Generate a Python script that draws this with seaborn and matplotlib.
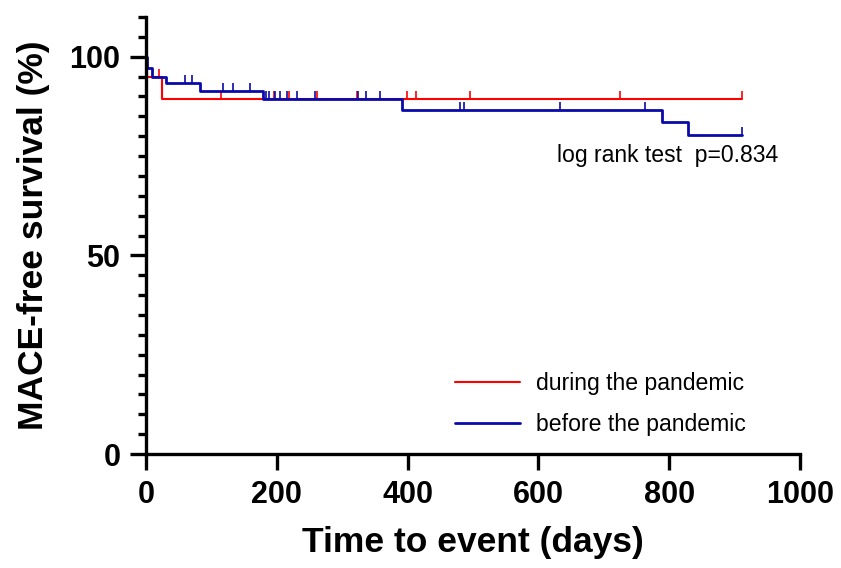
import numpy as np
import pandas as pd
import seaborn as sns
import matplotlib.pyplot as plt
from matplotlib.ticker import MultipleLocator

# Kaplan-Meier steps (day, survival %)
during_days = [0, 2, 24, 912]
during_surv = [100.0, 95.0, 89.4, 89.4]
before_days = [0, 1, 9, 31, 83, 179, 392, 789, 829, 911]
before_surv = [100.0, 97.1, 95.0, 93.4, 91.4, 89.3, 86.6, 83.6, 80.3, 80.3]

# censored observations (days)
during_cens = [20, 115, 195, 218, 262, 322, 399, 413, 495, 725, 912]
before_cens = [60, 71, 117, 133, 159, 183, 188, 197, 205, 215, 231, 258,
               324, 336, 358, 480, 486, 633, 763, 911]

groups = ['during the pandemic', 'before the pandemic']
colors = {'during the pandemic': '#ff0000', 'before the pandemic': '#0a0aaa'}
widths = {'during the pandemic': 1.5, 'before the pandemic': 2.0}


def surv_at(days, surv, t):
    idx = np.searchsorted(days, t, side='right') - 1
    return surv[idx]


def main():
    sns.set_style('ticks')
    plt.rcParams['font.family'] = ['Liberation Sans', 'DejaVu Sans']
    plt.rcParams['text.color'] = 'black'
    plt.rcParams['axes.labelcolor'] = 'black'
    plt.rcParams['xtick.labelcolor'] = 'black'
    plt.rcParams['ytick.labelcolor'] = 'black'

    steps = pd.concat([
        pd.DataFrame({'day': during_days, 'surv': during_surv, 'group': groups[0]}),
        pd.DataFrame({'day': before_days, 'surv': before_surv, 'group': groups[1]}),
    ])
    cens = pd.concat([
        pd.DataFrame({'day': during_cens,
                      'surv': [surv_at(during_days, during_surv, t) for t in during_cens],
                      'group': groups[0]}),
        pd.DataFrame({'day': before_cens,
                      'surv': [surv_at(before_days, before_surv, t) for t in before_cens],
                      'group': groups[1]}),
    ])

    fig = plt.figure(figsize=(8.41, 5.68), dpi=100)
    ax = fig.add_axes([146 / 841, 1 - 454 / 568, 654 / 841, 437 / 568])

    for g in groups:
        d = steps[steps['group'] == g]
        sns.lineplot(data=d, x='day', y='surv', ax=ax, color=colors[g],
                     drawstyle='steps-post', estimator=None, sort=False,
                     linewidth=widths[g], label=g)
        c = cens[cens['group'] == g]
        ax.plot(c['day'], c['surv'], linestyle='none', marker=2,
                markersize=6, markeredgewidth=1.2, color=colors[g])

    ax.set_xlim(0, 1000)
    ax.set_ylim(0, 110)
    ax.set_xticks(range(0, 1001, 200))
    ax.set_yticks([0, 50, 100])
    ax.yaxis.set_minor_locator(MultipleLocator(5))

    sns.despine(ax=ax)
    for s in ['left', 'bottom']:
        ax.spines[s].set_linewidth(2.4)
        ax.spines[s].set_color('black')
    ax.tick_params(axis='both', which='major', length=11.5, width=2.4,
                   color='black', labelsize=22, pad=7)
    ax.tick_params(axis='y', which='minor', length=6, width=2.4, color='black')
    for lab in ax.get_xticklabels() + ax.get_yticklabels():
        lab.set_fontweight('bold')

    ax.set_xlabel('Time to event (days)', fontsize=25.5, fontweight='bold',
                  labelpad=12)
    ax.set_ylabel('MACE-free survival (%)', fontsize=25.5, fontweight='bold',
                  labelpad=14)

    ax.text(628, 73.5, 'log rank test  p=0.834', fontsize=16.6,
            ha='left', va='baseline')

    ax.legend(loc='center left', bbox_to_anchor=(455 / 841, 1 - 404 / 568),
              bbox_transform=fig.transFigure, frameon=False, fontsize=16.6,
              handlelength=2.83, handletextpad=0.7, labelspacing=0.75,
              borderpad=0, borderaxespad=0)

    plt.savefig('out.png', dpi=100)


if __name__ == '__main__':
    main()
